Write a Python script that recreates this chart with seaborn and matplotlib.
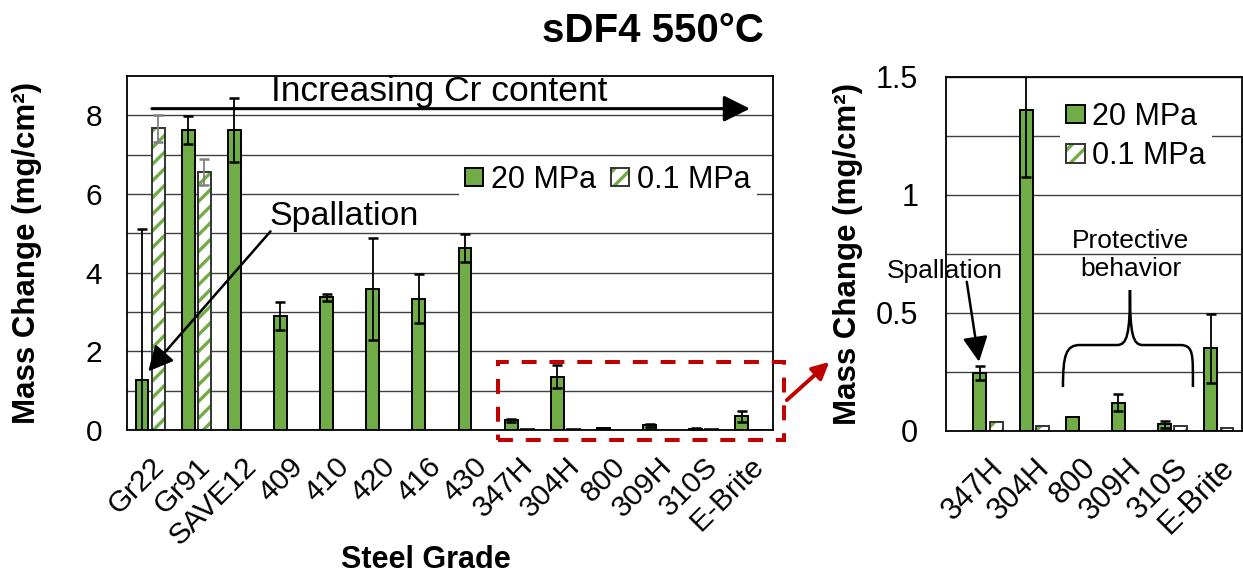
import numpy as np
import pandas as pd
import matplotlib
matplotlib.use("Agg")
import matplotlib.pyplot as plt
import seaborn as sns
from matplotlib.patches import Patch, Rectangle, PathPatch
from matplotlib.path import Path
from matplotlib.colors import to_rgba
from matplotlib.transforms import ScaledTranslation

# ---- data -------------------------------------------------------------
grades = ["Gr22", "Gr91", "SAVE12", "409", "410", "420", "416", "430",
          "347H", "304H", "800", "309H", "310S", "E-Brite"]
zoom_grades = ["347H", "304H", "800", "309H", "310S", "E-Brite"]
pressures = ["20 MPa", "0.1 MPa"]

gain_20mpa = [1.26, 7.62, 7.62, 2.90, 3.37, 3.59, 3.34, 4.63,
              0.245, 1.36, 0.059, 0.119, 0.027, 0.349]
err_20mpa = [3.86, 0.36, 0.81, 0.36, 0.08, 1.30, 0.63, 0.36,
             0.030, 0.283, 0.0, 0.036, 0.014, 0.145]
gain_01mpa = [7.67, 6.56, np.nan, np.nan, np.nan, np.nan, np.nan, np.nan,
              0.036, 0.021, np.nan, np.nan, 0.021, 0.010]
err_01mpa = [0.35, 0.33, np.nan, np.nan, np.nan, np.nan, np.nan, np.nan,
             0.0, 0.0, np.nan, np.nan, 0.0, 0.0]

GREEN = "#70AD47"
RED = "#C00000"
EDGE_01 = "#333333"
GRID = "#404040"

rows = []
for i, g in enumerate(grades):
    for p, vals, errs in ((pressures[0], gain_20mpa, err_20mpa),
                          (pressures[1], gain_01mpa, err_01mpa)):
        if not np.isnan(vals[i]):
            rows.append({"grade": g, "pressure": p, "gain": vals[i], "err": errs[i]})
df = pd.DataFrame(rows)
err_lookup = {(r.grade, r.pressure): r.err for r in df.itertuples()}

# ---- style ------------------------------------------------------------
sns.set_style("white")
plt.rcParams["font.family"] = ["Liberation Sans", "DejaVu Sans"]
plt.rcParams["hatch.linewidth"] = 2.4
for key in ("text.color", "axes.labelcolor", "xtick.color", "ytick.color"):
    plt.rcParams[key] = "black"


def set_hatch_color(patch, color):
    if hasattr(patch, "set_hatchcolor"):
        patch.set_hatchcolor(color)
    else:
        patch._hatch_color = to_rgba(color)


def draw_panel(ax, order):
    sub = df[df["grade"].isin(order)]
    sns.barplot(data=sub, x="grade", y="gain", hue="pressure",
                order=order, hue_order=pressures,
                palette={"20 MPa": GREEN, "0.1 MPa": "white"}, saturation=1,
                width=0.7, gap=0.2, errorbar=None, legend=False,
                edgecolor="black", linewidth=1.4, ax=ax)
    bars = list(ax.patches)
    for bar in bars:
        cx = bar.get_x() + bar.get_width() / 2
        idx = int(round(cx))
        pressure = pressures[0] if cx < idx else pressures[1]
        err = err_lookup.get((order[idx], pressure), 0.0)
        if pressure == pressures[1]:
            bar.set_edgecolor(EDGE_01)
            bar.set_hatch("//")
            set_hatch_color(bar, GREEN)
        if err and err > 0:
            ax.errorbar(cx, bar.get_height(), yerr=err, fmt="none",
                        ecolor="black" if pressure == pressures[0] else "#808080",
                        elinewidth=1.3, capsize=3.6, capthick=1.8, zorder=4)
    ax.set_axisbelow(True)
    ax.grid(True, which="both", axis="y", color=GRID, linewidth=1.0)
    ax.grid(False, axis="x")
    for s in ax.spines.values():
        s.set_visible(True)
        s.set_color("black")
        s.set_linewidth(1.3)
    ax.set_xlabel("")
    ax.set_ylabel("Mass Change (mg/cm²)", fontsize=22.5, fontweight="bold")
    ax.tick_params(axis="both", which="both", length=0)
    ax.set_xticks(range(len(order)))
    ax.set_xticklabels(order, rotation=45, ha="right", va="top",
                       rotation_mode="anchor")
    shift = ScaledTranslation(0.07, 0, ax.figure.dpi_scale_trans)
    for lab in ax.get_xticklabels():
        lab.set_transform(lab.get_transform() + shift)


def add_legend(ax, **kw):
    handles = [Patch(facecolor=GREEN, edgecolor="black", linewidth=1.4),
               Patch(facecolor="white", edgecolor=EDGE_01, linewidth=1.4, hatch="//")]
    leg = ax.legend(handles, pressures, fontsize=22, handlelength=0.6,
                    handleheight=0.55, handletextpad=0.25, borderpad=0.2,
                    frameon=True, fancybox=False, framealpha=1,
                    facecolor="white", edgecolor="none", **kw)
    set_hatch_color(leg.get_patches()[1], GREEN)
    return leg


fig = plt.figure(figsize=(12.43, 5.75), dpi=100)
ax1 = fig.add_axes([127 / 1243, 145 / 575, 646 / 1243, 354 / 575])
ax2 = fig.add_axes([946 / 1243, 144.3 / 575, 296 / 1243, 354 / 575])

# ---- full set of grades -------------------------------------------------
draw_panel(ax1, grades)
ax1.set_xlim(-0.5, len(grades) - 0.5)
ax1.set_ylim(0, 9)
ax1.set_yticks([0, 2, 4, 6, 8])
ax1.set_yticks([1, 3, 5, 7], minor=True)
ax1.tick_params(axis="y", labelsize=21.5, pad=18)
ax1.tick_params(axis="x", labelsize=21.5, pad=16)
ax1.yaxis.set_label_coords(-0.132, 0.5)
ax1.set_xlabel("Steel Grade", fontsize=22, fontweight="bold")
ax1.xaxis.set_label_coords(0.463, -0.325)
add_legend(ax1, loc="center", bbox_to_anchor=(0.744, 0.706), ncol=2,
           columnspacing=0.5)

ax1.annotate("", xy=(13.0, 8.17), xytext=(0.04, 8.17),
             arrowprops=dict(arrowstyle="-|>", color="black", lw=2.2,
                             mutation_scale=40, shrinkA=0, shrinkB=0))
ax1.text(6.27, 8.36, "Increasing Cr content", fontsize=25.5,
         ha="center", va="baseline")
ax1.text(4.2, 5.2, "Spallation", fontsize=24.5, ha="center", va="baseline")
ax1.annotate("", xy=(-0.04, 1.49), xytext=(2.61, 5.05),
             arrowprops=dict(arrowstyle="-|>", color="black", lw=1.8,
                             mutation_scale=38, shrinkA=0, shrinkB=0))

# dashed outline of the zoomed region and pointer to the inset panel
ax1.add_patch(Rectangle((7.54, -0.25), 6.2, 1.98, fill=False, edgecolor=RED,
                        linewidth=2.9, linestyle=(0, (3.7, 3.2)), clip_on=False,
                        zorder=5))
ax1.annotate("", xy=(14.72, 1.73), xytext=(13.8, 0.76), annotation_clip=False,
             arrowprops=dict(arrowstyle="-|>", color=RED, lw=2.8,
                             mutation_scale=25, shrinkA=0, shrinkB=0))

# ---- zoomed panel -------------------------------------------------------
draw_panel(ax2, zoom_grades)
ax2.set_xlim(-0.91, 5.5)
ax2.set_ylim(0, 1.5)
ax2.set_yticks([0, 0.5, 1, 1.5])
ax2.set_yticklabels(["0", "0.5", "1", "1.5"])
ax2.set_yticks([0.25, 0.75, 1.25], minor=True)
ax2.tick_params(axis="y", labelsize=22, pad=20)
ax2.tick_params(axis="x", labelsize=22, pad=16)
ax2.yaxis.set_label_coords(-0.28, 0.5)
add_legend(ax2, loc="center", bbox_to_anchor=(0.642, 0.831), ncol=1,
           labelspacing=0.3)

ax2.text(-0.93, 0.646, "Spallation", fontsize=19, ha="center", va="baseline")
ax2.annotate("", xy=(-0.195, 0.292), xytext=(-0.46, 0.631),
             arrowprops=dict(arrowstyle="-|>", color="black", lw=1.8,
                             mutation_scale=38, shrinkA=0, shrinkB=0))
ax2.text(3.09, 0.744, "Protective\nbehavior", fontsize=19, ha="center",
         va="center", linespacing=1.2)

brace_pts = [(1.623, 0.185),
             (1.623, 0.321), (1.688, 0.363), (1.991, 0.363),
             (2.792, 0.363),
             (3.009, 0.363), (3.074, 0.405), (3.074, 0.596),
             (3.074, 0.405), (3.139, 0.363), (3.355, 0.363),
             (4.156, 0.363),
             (4.459, 0.363), (4.437, 0.321), (4.437, 0.185)]
brace_codes = [Path.MOVETO,
               Path.CURVE4, Path.CURVE4, Path.CURVE4,
               Path.LINETO,
               Path.CURVE4, Path.CURVE4, Path.CURVE4,
               Path.CURVE4, Path.CURVE4, Path.CURVE4,
               Path.LINETO,
               Path.CURVE4, Path.CURVE4, Path.CURVE4]
ax2.add_patch(PathPatch(Path(brace_pts, brace_codes), fill=False,
                        edgecolor="black", linewidth=1.8, zorder=5))

fig.text(652.5 / 1243, 1 - 41.7 / 575, "sDF4 550°C", fontsize=29,
         fontweight="bold", ha="center", va="baseline")

fig.savefig("out.png", dpi=100)
